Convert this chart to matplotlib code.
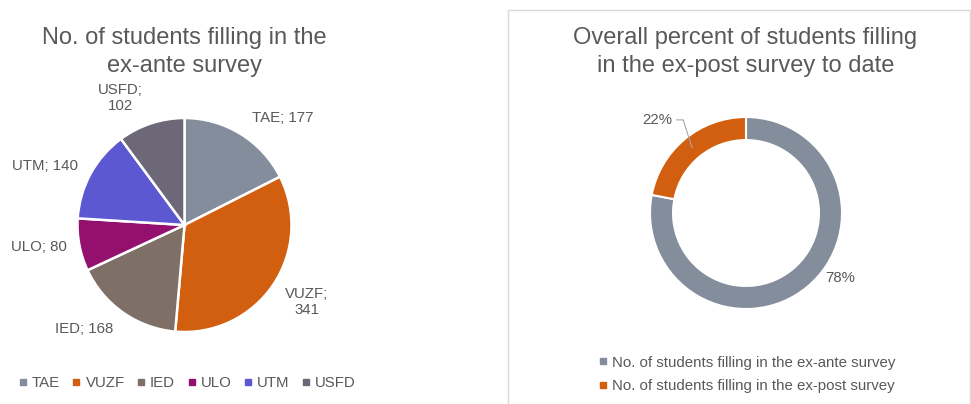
import numpy as np
import matplotlib.pyplot as plt
from matplotlib.lines import Line2D
from matplotlib.patches import Rectangle

plt.rcParams['font.family'] = ['Liberation Sans', 'DejaVu Sans']

# data
schools = ['TAE', 'VUZF', 'IED', 'ULO', 'UTM', 'USFD']
students = [177, 341, 168, 80, 140, 102]
survey_labels = ['No. of students filling in the ex-ante survey',
                 'No. of students filling in the ex-post survey']
survey_counts = [1008, 284]

school_colors = ['#848d9b', '#d25f10', '#7e6f67', '#93106f', '#5c58d1', '#6c6878']
survey_colors = ['#848d9b', '#d25f10']
txt = '#595959'

# label spots in units of pie radius (Excel "best fit" placement)
school_lbl_pos = [(0.92, 1.0), (1.14, -0.72), (-0.94, -0.97),
                  (-1.36, -0.21), (-1.30, 0.55), (-0.60, 1.19)]

W, H = 971, 404
fig = plt.figure(figsize=(W / 100, H / 100), dpi=100)


def square_axes(cx, cy, r, side):
    # cx, cy in pixels from top-left, r = pie radius in pixels
    ax = fig.add_axes([(cx - side / 2) / W, (H - cy - side / 2) / H, side / W, side / H])
    lim = side / 2 / r
    ax.set_xlim(-lim, lim)
    ax.set_ylim(-lim, lim)
    ax.set_aspect('equal')
    ax.axis('off')
    return ax


# ---- left: pie ----
ax1 = square_axes(184.5, 225, 107, 340)
ax1.pie(students, colors=school_colors, startangle=90, counterclock=False,
        wedgeprops=dict(edgecolor='white', linewidth=1.8), radius=1)
ax1.set_xlim(-340 / 2 / 107, 340 / 2 / 107)
ax1.set_ylim(-340 / 2 / 107, 340 / 2 / 107)
for name, val, (lx, ly) in zip(schools, students, school_lbl_pos):
    if name in ('VUZF', 'USFD'):
        s = name + ';\n' + str(val)
    else:
        s = name + '; ' + str(val)
    ax1.text(lx, ly, s, ha='center', va='center', fontsize=10.8, color=txt,
             linespacing=1.2)

fig.text(184.5 / W, 1 - 52 / H, 'No. of students filling in the\nex-ante survey',
         ha='center', va='center', fontsize=17, color=txt, linespacing=1.33)

handles1 = [Line2D([], [], marker='s', linestyle='none', markersize=4.5,
                   markerfacecolor=c, markeredgecolor=c) for c in school_colors]
fig.legend(handles1, schools, loc='center', bbox_to_anchor=(187 / W, 1 - 383 / H),
           ncol=6, frameon=False, fontsize=10.8, labelcolor=txt,
           handlelength=0.6, handletextpad=0.3, columnspacing=0.8)

# ---- right: donut ----
fig.patches.append(Rectangle((508 / W, -0.05), 462 / W, (H - 10) / H + 0.05,
                             transform=fig.transFigure, fill=False,
                             edgecolor='#d9d9d9', linewidth=1))
ax2 = square_axes(746, 213, 96, 300)
ax2.pie(survey_counts, colors=survey_colors, startangle=90, counterclock=False,
        wedgeprops=dict(width=0.24, edgecolor='white', linewidth=1.5), radius=1)
ax2.set_xlim(-300 / 2 / 96, 300 / 2 / 96)
ax2.set_ylim(-300 / 2 / 96, 300 / 2 / 96)

pct = np.array(survey_counts) / sum(survey_counts) * 100
# 78% label
ax2.text(0.98, -0.68, '%d%%' % round(pct[0]), ha='center', va='center',
         fontsize=10.8, color=txt)
# 22% label with leader line
ax2.text(-0.92, 0.97, '%d%%' % round(pct[1]), ha='center', va='center',
         fontsize=10.8, color=txt)
mid = np.deg2rad(90 + 0.5 * pct[1] / 100 * 360)
ax2.plot([-0.72, -0.655, 0.88 * np.cos(mid)], [0.97, 0.97, 0.88 * np.sin(mid)],
         color='#a6a6a6', linewidth=0.8)

fig.text(745.5 / W, 1 - 52 / H, 'Overall percent of students filling\nin the ex-post survey to date',
         ha='center', va='center', fontsize=17, color=txt, linespacing=1.33)

handles2 = [Line2D([], [], marker='s', linestyle='none', markersize=4.5,
                   markerfacecolor=c, markeredgecolor=c) for c in survey_colors]
fig.legend(handles2, survey_labels, loc='upper left', bbox_to_anchor=(585 / W, 1 - 342 / H),
           ncol=1, frameon=False, fontsize=10.8, labelcolor=txt,
           handlelength=0.6, handletextpad=0.3, labelspacing=0.65)

fig.savefig('out.png', dpi=100)
